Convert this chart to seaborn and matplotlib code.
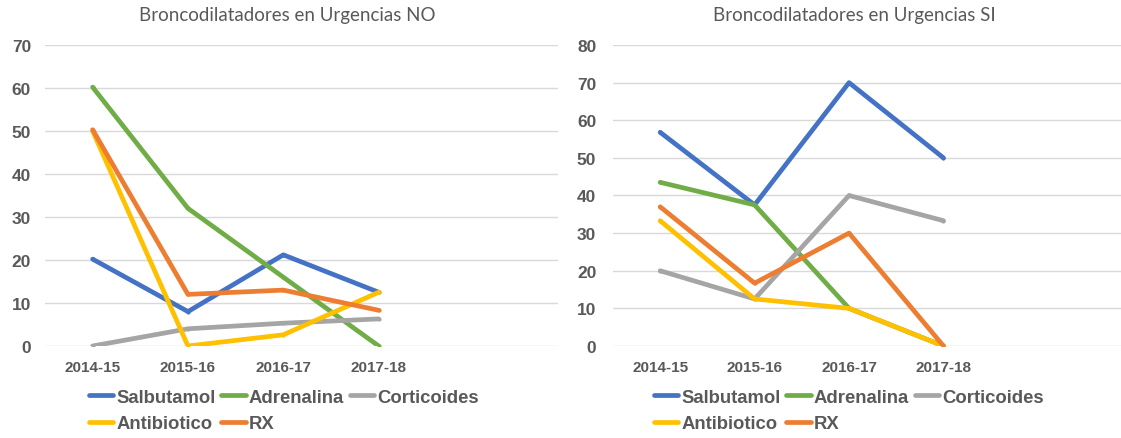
import matplotlib
matplotlib.use("Agg")
import matplotlib.pyplot as plt
import pandas as pd
import seaborn as sns

periods = ["2014-15", "2015-16", "2016-17", "2017-18"]
series = ["Salbutamol", "Adrenalina", "Corticoides", "Antibiotico", "RX"]
colors = ["#4472C4", "#70AD47", "#A5A5A5", "#FFC000", "#ED7D31"]

# Urgencias NO
no_salbutamol = [20.2, 8.0, 21.2, 12.5]
no_adrenalina = [60.2, 32.0, 16.0, 0.0]
no_corticoides = [0.0, 4.0, 5.3, 6.3]
no_antibiotico = [50.0, 0.0, 2.6, 12.5]
no_rx = [50.3, 12.0, 13.0, 8.3]

# Urgencias SI
si_salbutamol = [56.8, 37.5, 70.0, 50.0]
si_adrenalina = [43.5, 37.5, 10.0, 0.0]
si_corticoides = [20.0, 12.5, 40.0, 33.3]
si_antibiotico = [33.3, 12.5, 10.0, 0.0]
si_rx = [37.0, 16.7, 30.0, 0.0]

titles = ["Broncodilatadores en Urgencias NO", "Broncodilatadores en Urgencias SI"]
ymax = [70, 80]


def long_df(vals):
    rows = []
    for name, v in zip(series, vals):
        for p, y in zip(periods, v):
            rows.append({"periodo": p, "valor": y, "serie": name})
    return pd.DataFrame(rows)


data = [
    long_df([no_salbutamol, no_adrenalina, no_corticoides, no_antibiotico, no_rx]),
    long_df([si_salbutamol, si_adrenalina, si_corticoides, si_antibiotico, si_rx]),
]

sns.set_style("white")
plt.rcParams["font.family"] = ["Liberation Sans", "DejaVu Sans"]
grey = "#595959"
lw = 3.4

fig = plt.figure(figsize=(11.21, 4.39), dpi=100)
axes = [fig.add_axes([0.0401, 0.2096, 0.4576, 0.6856]),
        fig.add_axes([0.5468, 0.2096, 0.4532, 0.6856])]
title_x = [0.256, 0.762]
leg_x = [0.079, 0.583]

for i, ax in enumerate(axes):
    sns.lineplot(data=data[i], x="periodo", y="valor", hue="serie",
                 hue_order=series, palette=colors, linewidth=lw,
                 sort=False, ax=ax, solid_capstyle="round",
                 solid_joinstyle="round", marker="o", markersize=3,
                 markeredgewidth=0)
    ax.set_xlim(-0.5, 4.88)
    ax.set_ylim(0, ymax[i])
    ax.set_yticks(range(0, ymax[i] + 1, 10))
    ax.set_xlabel("")
    ax.set_ylabel("")
    for s in ax.spines.values():
        s.set_visible(False)
    ax.grid(axis="y", color="#D9D9D9", linewidth=1)
    ax.set_axisbelow(True)
    ax.tick_params(axis="y", length=0, pad=10 if i == 0 else 12,
                   labelsize=12.5, labelcolor=grey)
    ax.tick_params(axis="x", length=0, pad=10, labelsize=11, labelcolor=grey)
    for lab in ax.get_xticklabels() + ax.get_yticklabels():
        lab.set_fontweight("bold")

    handles, labels = ax.get_legend_handles_labels()
    ax.get_legend().remove()
    order = [0, 3, 1, 4, 2]
    for h in handles:
        h.set_marker("")
        h.set_linewidth(lw)
        h.set_solid_capstyle("round")
    fig.legend([handles[k] for k in order], [labels[k] for k in order],
               loc="upper left", bbox_to_anchor=(leg_x[i], 0.112), ncol=3,
               frameon=False, borderpad=0, borderaxespad=0,
               handlelength=1.35, handletextpad=0.15, columnspacing=0.3,
               labelspacing=0.5,
               prop={"family": "Liberation Sans", "weight": "bold", "size": 13.3},
               labelcolor=grey)

    fig.text(title_x[i], 0.965, titles[i], ha="center", va="center",
             fontsize=13.5, color=grey, family=["Lato", "DejaVu Sans"])

fig.savefig("out.png", dpi=100)
